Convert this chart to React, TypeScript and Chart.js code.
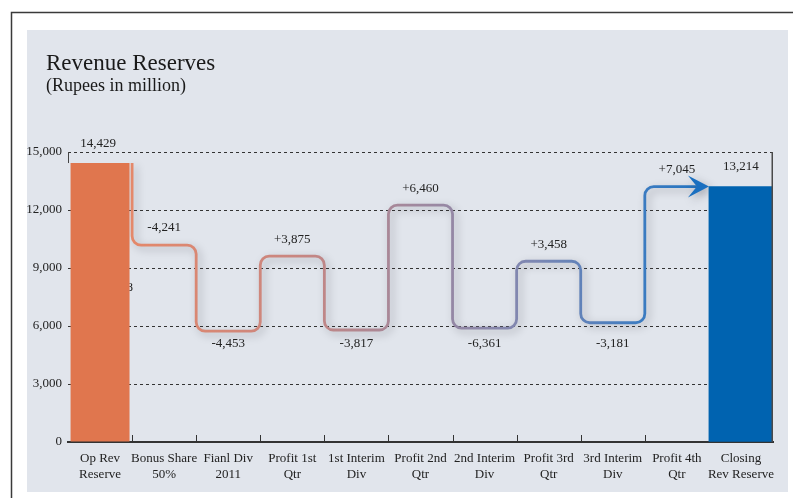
import React, { useEffect, useRef } from "react";
import { Chart, registerables } from "chart.js";

Chart.register(...registerables);

const categories: string[][] = [
  ["Op Rev", "Reserve"],
  ["Bonus Share", "50%"],
  ["Fianl Div", "2011"],
  ["Profit 1st", "Qtr"],
  ["1st Interim", "Div"],
  ["Profit 2nd", "Qtr"],
  ["2nd Interim", "Div"],
  ["Profit 3rd", "Qtr"],
  ["3rd Interim", "Div"],
  ["Profit 4th", "Qtr"],
  ["Closing", "Rev Reserve"],
];
const openingReserve = 14429;
const changes = [-4241, -4453, 3875, -3817, 6460, -6361, 3458, -3181, 7045];
const closingReserve = 13214;
const hiddenLabel = "10,188";
const yTickStep = 3000;
const yMax = 15000;
const changeLabelSide = ["above", "below", "above", "below", "above", "below", "above", "below", "above"];

const FONT = '"Liberation Serif", "Times New Roman", serif';

const levels: number[] = [openingReserve];
changes.forEach((c) => levels.push(levels[levels.length - 1] + c));

const fmt = (v: number) => Math.abs(v).toLocaleString("en-US");
const fmtChange = (v: number) => (v > 0 ? "+" : "-") + fmt(v);

const framePlugin = {
  id: "frame",
  beforeDraw(chart: any) {
    const ctx = chart.ctx;
    ctx.save();
    ctx.fillStyle = "#ffffff";
    ctx.fillRect(0, 0, chart.width, chart.height);
    ctx.strokeStyle = "#3a3a3a";
    ctx.lineWidth = 1.5;
    ctx.beginPath();
    ctx.moveTo(11.5, chart.height);
    ctx.lineTo(11.5, 12.5);
    ctx.lineTo(chart.width, 12.5);
    ctx.stroke();
    ctx.fillStyle = "#e1e5ec";
    ctx.fillRect(27, 30, 761, 462);
    ctx.restore();
  },
};

const boundaryOf = (xs: any, i: number) =>
  (xs.getPixelForValue(i) + xs.getPixelForValue(i + 1)) / 2;

const stepLinePlugin = {
  id: "stepLine",
  beforeDatasetsDraw(chart: any) {
    const ctx = chart.ctx;
    const xs = chart.scales.x;
    const ys = chart.scales.y;
    const area = chart.chartArea;
    const meta = chart.getDatasetMeta(2);
    const pts = meta.data;

    ctx.save();
    // left border (only its top part shows above the opening bar)
    ctx.strokeStyle = "#444";
    ctx.lineWidth = 1;
    ctx.beginPath();
    ctx.moveTo(area.left + 0.5, area.top);
    ctx.lineTo(area.left + 0.5, ys.getPixelForValue(openingReserve));
    ctx.stroke();

    // inward category ticks
    ctx.strokeStyle = "#333";
    ctx.lineWidth = 1;
    for (let i = 0; i < categories.length - 1; i++) {
      const bx = Math.round(boundaryOf(xs, i)) + 0.5;
      ctx.beginPath();
      ctx.moveTo(bx, area.bottom - 7);
      ctx.lineTo(bx, area.bottom);
      ctx.stroke();
    }

    // partially hidden label behind the opening bar
    const barEl = chart.getDatasetMeta(0).data[0];
    ctx.fillStyle = "#222";
    ctx.font = `13px ${FONT}`;
    ctx.textAlign = "right";
    ctx.textBaseline = "middle";
    ctx.fillText(
      hiddenLabel,
      barEl.x + barEl.width / 2 + 3.5,
      ys.getPixelForValue((levels[1] + levels[2]) / 2)
    );

    // rounded step path
    const path: number[][] = [];
    path.push([boundaryOf(xs, 0), pts[0].y]);
    for (let i = 1; i < levels.length; i++) {
      path.push([boundaryOf(xs, i - 1), pts[i].y]);
      path.push([boundaryOf(xs, i), pts[i].y]);
    }
    const tip = path[path.length - 1];
    const headLen = 21;
    const headHalf = 11;
    const notch = 12;
    const end = [tip[0] - notch, tip[1]];

    const g = ctx.createLinearGradient(path[0][0], 0, tip[0], 0);
    g.addColorStop(0, "#e4886a");
    g.addColorStop(0.28, "#c98680");
    g.addColorStop(0.5, "#9e889f");
    g.addColorStop(0.7, "#7c87b3");
    g.addColorStop(0.88, "#3d7cc1");
    g.addColorStop(1, "#1f72c0");

    ctx.shadowColor = "rgba(50,50,60,0.35)";
    ctx.shadowBlur = 8;
    ctx.shadowOffsetX = 3;
    ctx.shadowOffsetY = 3;
    ctx.strokeStyle = g;
    ctx.lineWidth = 2.8;
    ctx.lineJoin = "round";
    ctx.lineCap = "butt";
    ctx.beginPath();
    ctx.moveTo(path[0][0], path[0][1]);
    const r = 9;
    for (let k = 1; k < path.length - 1; k++) {
      ctx.arcTo(path[k][0], path[k][1], path[k + 1][0], path[k + 1][1], r);
    }
    ctx.lineTo(end[0], end[1]);
    ctx.stroke();

    // arrow head
    ctx.fillStyle = "#1a6fc0";
    ctx.beginPath();
    ctx.moveTo(tip[0], tip[1]);
    ctx.lineTo(tip[0] - headLen, tip[1] - headHalf);
    ctx.lineTo(tip[0] - notch, tip[1]);
    ctx.lineTo(tip[0] - headLen, tip[1] + headHalf);
    ctx.closePath();
    ctx.fill();
    ctx.restore();
  },
  afterDatasetsDraw(chart: any) {
    const ctx = chart.ctx;
    const xs = chart.scales.x;
    const ys = chart.scales.y;
    const area = chart.chartArea;
    ctx.save();
    // right border
    ctx.strokeStyle = "#4a4a4a";
    ctx.lineWidth = 1.5;
    ctx.beginPath();
    ctx.moveTo(area.right - 0.75, area.top);
    ctx.lineTo(area.right - 0.75, area.bottom);
    ctx.stroke();

    ctx.fillStyle = "#222";
    ctx.font = `13px ${FONT}`;
    ctx.textAlign = "center";
    ctx.textBaseline = "middle";
    ctx.fillText(fmt(openingReserve), xs.getPixelForValue(0) - 2, ys.getPixelForValue(openingReserve) - 19);
    const lowest = Math.min(...levels.filter((_, i) => i > 0 && changeLabelSide[i - 1] === "below"));
    changes.forEach((c, j) => {
      const i = j + 1;
      const x = xs.getPixelForValue(i);
      const y =
        changeLabelSide[j] === "above"
          ? ys.getPixelForValue(levels[i]) - 17
          : ys.getPixelForValue(lowest) + 12;
      ctx.fillText(fmtChange(c), x, y);
    });
    ctx.fillText(
      fmt(closingReserve),
      xs.getPixelForValue(categories.length - 1),
      ys.getPixelForValue(closingReserve) - 20
    );
    ctx.restore();
  },
};

export default function App() {
  const ref = useRef<HTMLCanvasElement | null>(null);
  useEffect(() => {
    if (!ref.current) return;
    const n = categories.length;
    const openData = categories.map((_, i) => (i === 0 ? openingReserve : null));
    const closeData = categories.map((_, i) => (i === n - 1 ? closingReserve : null));
    const lineData = categories.map((_, i) => (i < levels.length ? levels[i] : null));
    const chart = new Chart(ref.current, {
      type: "bar",
      data: {
        labels: categories,
        datasets: [
          {
            label: "Opening",
            data: openData,
            backgroundColor: "#e0764e",
            barPercentage: 0.92,
            categoryPercentage: 1,
            grouped: false,
            order: 1,
          } as any,
          {
            label: "Closing",
            data: closeData,
            backgroundColor: "#0063b0",
            barPercentage: 1,
            categoryPercentage: 1,
            grouped: false,
            order: 1,
          } as any,
          {
            type: "line",
            label: "Balance",
            data: lineData,
            showLine: false,
            pointRadius: 0,
            pointHoverRadius: 0,
            order: 2,
          } as any,
        ],
      },
      options: {
        animation: false,
        responsive: false,
        devicePixelRatio: 1,
        events: [],
        layout: { padding: { left: 26, top: 152, right: 20, bottom: 6 } },
        plugins: {
          legend: { display: false },
          tooltip: { enabled: false },
          title: { display: false },
        },
        scales: {
          x: {
            grid: { display: false, drawTicks: false },
            border: { display: true, color: "#333", width: 2 },
            ticks: {
              color: "#222",
              font: { family: FONT, size: 13, lineHeight: 16 / 13 },
              padding: 9,
              maxRotation: 0,
              autoSkip: false,
            },
            afterFit: (s: any) => {
              s.height = 50;
            },
          },
          y: {
            min: 0,
            max: yMax,
            grid: { color: "#333", lineWidth: 1, drawTicks: false },
            border: { display: false, dash: [3, 3] },
            ticks: {
              stepSize: yTickStep,
              color: "#222",
              font: { family: FONT, size: 13 },
              padding: 6,
              callback: (v: any) => Number(v).toLocaleString("en-US"),
            },
            afterFit: (s: any) => {
              s.width = 42;
            },
          },
        },
      },
      plugins: [framePlugin, stepLinePlugin],
    });
    return () => chart.destroy();
  }, []);

  return (
    <div
      style={{
        position: "fixed",
        left: 0,
        top: 0,
        width: 793,
        height: 498,
        background: "#fff",
        overflow: "hidden",
      }}
    >
      <canvas
        ref={ref}
        width={793}
        height={498}
        style={{ position: "absolute", left: 0, top: 0, width: 793, height: 498 }}
      />
      <div
        style={{
          position: "absolute",
          left: 46,
          top: 51,
          fontFamily: FONT,
          fontSize: 23,
          lineHeight: "24px",
          color: "#1a1a1a",
          whiteSpace: "nowrap",
        }}
      >
        Revenue Reserves
      </div>
      <div
        style={{
          position: "absolute",
          left: 46,
          top: 76,
          fontFamily: FONT,
          fontSize: 18,
          lineHeight: "18px",
          color: "#1a1a1a",
          whiteSpace: "nowrap",
        }}
      >
        (Rupees in million)
      </div>
    </div>
  );
}
